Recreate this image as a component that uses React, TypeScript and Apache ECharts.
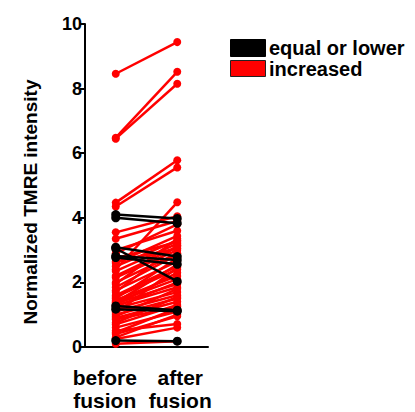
import React, { useEffect, useRef } from "react";
import * as echarts from "echarts";

const categories = ["before\nfusion", "after\nfusion"];
const yTicks = [0, 2, 4, 6, 8, 10];

// [before, after] pairs where intensity increased
const increasedBefore = [8.46, 6.48, 6.45, 4.47, 4.35, 3.55, 3.35, 2.4, 2.9, 2.6, 2.5, 2.35, 2.2, 2.15, 2.0, 1.95, 1.85, 1.75, 1.7, 1.6, 1.55, 1.5, 1.45, 1.4, 1.38, 1.35, 1.3, 1.28, 1.25, 1.2, 1.1, 1.05, 1.0, 0.95, 0.9, 0.85, 0.75, 0.7, 0.6, 0.5, 0.45, 0.4, 0.3, 0.25, 0.1, 3.0, 2.75, 2.65];
const increasedAfter = [9.44, 8.52, 8.15, 5.78, 5.56, 4.05, 3.9, 4.48, 3.8, 3.44, 3.3, 3.2, 3.1, 3.0, 2.9, 3.35, 2.85, 2.65, 3.15, 2.5, 2.4, 2.75, 2.2, 2.1, 2.55, 1.95, 2.3, 1.85, 2.0, 1.7, 1.6, 2.45, 1.5, 1.8, 1.4, 1.25, 1.55, 1.3, 1.1, 0.71, 1.2, 0.95, 1.0, 0.6, 0.18, 3.6, 3.25, 3.05];

// [before, after] pairs where intensity was equal or lower
const lowerBefore = [4.1, 4.0, 3.09, 3.05, 2.82, 2.77, 1.27, 1.17, 0.2];
const lowerAfter = [3.98, 3.83, 2.8, 2.03, 2.69, 2.56, 1.14, 1.11, 0.18];

const legendLabels = ["equal or lower", "increased"];
const FONT = "'Liberation Sans', Arial, sans-serif";

export default function App() {
  const ref = useRef<HTMLDivElement>(null);
  useEffect(() => {
    if (!ref.current) return;
    const chart = echarts.init(ref.current, undefined, { renderer: "svg" });
    const mk = (b: number[], a: number[], color: string, z: number, size: number) =>
      b.map((v, i) => ({
        type: "line",
        data: [v, a[i]],
        symbol: "circle",
        symbolSize: size,
        showSymbol: true,
        lineStyle: { width: 2.5, color },
        itemStyle: { color },
        z,
        silent: true,
      }));
    const series = [
      ...mk(increasedBefore, increasedAfter, "#ff0000", 2, 8),
      ...mk(lowerBefore, lowerAfter, "#000000", 3, 9),
    ];
    chart.setOption({
      animation: false,
      grid: { left: 85, top: 24, width: 123, height: 324, containLabel: false },
      xAxis: {
        type: "category",
        data: [
          { value: categories[0], textStyle: { padding: [0, 22, 0, 0] } },
          { value: categories[1], textStyle: { padding: [0, 0, 0, 6] } },
        ],
        boundaryGap: true,
        axisLine: { lineStyle: { color: "#000", width: 2 } },
        axisTick: { alignWithLabel: true, length: 6, lineStyle: { color: "#000", width: 2 } },
        axisLabel: {
          interval: 0,
          color: "#000",
          fontFamily: FONT,
          fontWeight: "bold",
          fontSize: 21,
          lineHeight: 23,
          margin: 19,
        },
      },
      yAxis: {
        type: "value",
        min: yTicks[0],
        max: yTicks[yTicks.length - 1],
        interval: 2,
        splitLine: { show: false },
        axisLine: { show: true, lineStyle: { color: "#000", width: 2 } },
        axisTick: { show: true, length: 5, lineStyle: { color: "#000", width: 2 } },
        axisLabel: {
          color: "#000",
          fontFamily: FONT,
          fontWeight: "bold",
          fontSize: 18,
          margin: 3,
        },
      },
      graphic: [
        {
          type: "text",
          x: 30,
          y: 202,
          rotation: Math.PI / 2,
          style: {
            text: "Normalized TMRE intensity",
            fontFamily: FONT,
            fontWeight: "bold",
            fontSize: 19,
            fill: "#000",
            align: "center",
            verticalAlign: "middle",
          },
        },
        {
          type: "rect",
          shape: { x: 230.5, y: 39.5, width: 35, height: 17 },
          style: { fill: "#000", stroke: "#000", lineWidth: 1 },
        },
        {
          type: "rect",
          shape: { x: 230.5, y: 60.5, width: 35, height: 16 },
          style: { fill: "#ff0000", stroke: "#222", lineWidth: 1 },
        },
        {
          type: "text",
          x: 269,
          y: 48,
          style: {
            text: legendLabels[0],
            fontFamily: FONT,
            fontWeight: "bold",
            fontSize: 20,
            fill: "#000",
            verticalAlign: "middle",
          },
        },
        {
          type: "text",
          x: 269,
          y: 69,
          style: {
            text: legendLabels[1],
            fontFamily: FONT,
            fontWeight: "bold",
            fontSize: 20,
            fill: "#000",
            verticalAlign: "middle",
          },
        },
      ],
      series,
    });
    return () => chart.dispose();
  }, []);
  return (
    <div
      ref={ref}
      style={{ position: "fixed", left: 0, top: 0, width: 415, height: 412, background: "#fff" }}
    />
  );
}
